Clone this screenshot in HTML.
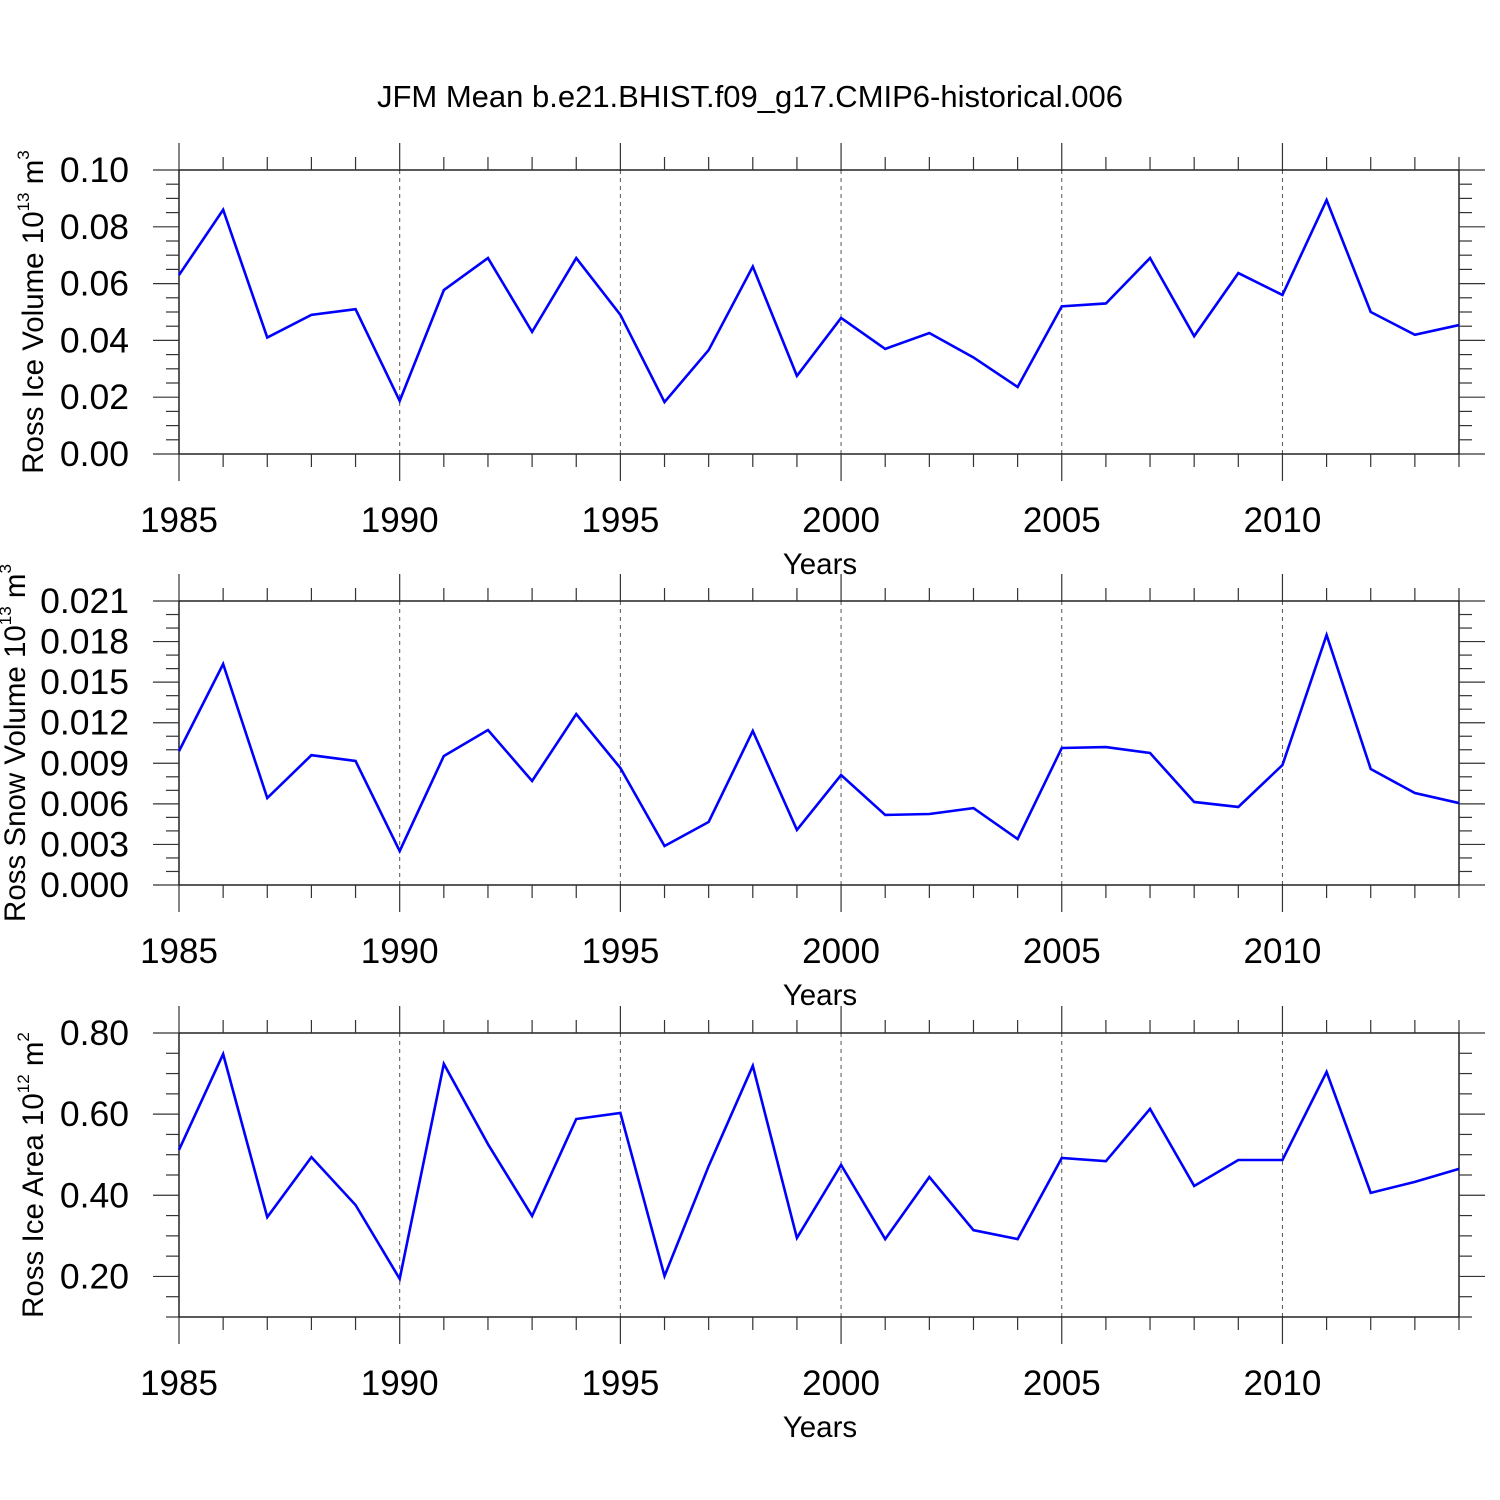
<!DOCTYPE html>
<html><head><meta charset="utf-8">
<style>
html,body{margin:0;padding:0;background:#fff;}
svg{display:block;font-family:"Liberation Sans",Arial,sans-serif;}
</style></head>
<body>
<svg id="chart" width="1500" height="1500" viewBox="0 0 1500 1500" xmlns="http://www.w3.org/2000/svg">
<rect width="1500" height="1500" fill="#fff"/>
<text x="750" y="107" font-size="31" text-anchor="middle" fill="#000">JFM Mean b.e21.BHIST.f09_g17.CMIP6-historical.006</text>
</svg>
<script>
const years = [1985,1986,1987,1988,1989,1990,1991,1992,1993,1994,1995,1996,1997,1998,1999,2000,2001,2002,2003,2004,2005,2006,2007,2008,2009,2010,2011,2012,2013,2014];
const iceVolume = [0.063,0.086,0.041,0.049,0.051,0.0187,0.0577,0.069,0.043,0.069,0.049,0.0183,0.0366,0.066,0.0275,0.0479,0.037,0.0426,0.034,0.0236,0.052,0.053,0.069,0.0415,0.0637,0.056,0.0894,0.050,0.042,0.0454];
const snowVolume = [0.0099,0.01634,0.00643,0.0096,0.00917,0.00251,0.00954,0.01146,0.00769,0.01264,0.00865,0.00288,0.00466,0.01139,0.00407,0.00813,0.00518,0.00525,0.00569,0.0034,0.01013,0.0102,0.00976,0.00614,0.00577,0.00887,0.01849,0.00858,0.0068,0.00606];
const iceArea = [0.512,0.748,0.346,0.494,0.376,0.194,0.724,0.526,0.349,0.588,0.603,0.201,0.472,0.719,0.295,0.475,0.292,0.445,0.314,0.292,0.492,0.484,0.613,0.423,0.487,0.487,0.704,0.406,0.433,0.465];
const xTickLabels = ["1985","1990","1995","2000","2005","2010"];
const iceVolTicks = ["0.00","0.02","0.04","0.06","0.08","0.10"];
const snowVolTicks = ["0.000","0.003","0.006","0.009","0.012","0.015","0.018","0.021"];
const iceAreaTicks = ["0.20","0.40","0.60","0.80"];

const NS = "http://www.w3.org/2000/svg";
const svg = document.getElementById('chart');
const X0 = 179, X1 = 1459;
function xs(yr){ return X0 + (yr - 1985) / (2014 - 1985) * (X1 - X0); }
function mk(tag, attrs, parent){
  const e = document.createElementNS(NS, tag);
  for (const k in attrs) e.setAttribute(k, attrs[k]);
  (parent || svg).appendChild(e);
  return e;
}

const panels = [
  {name:'ice-volume', top:170, bot:454, ymin:0, ymax:0.10, minor:0.005, data:iceVolume, ticks:iceVolTicks, title:'Ross Ice Volume 10', sup:'13', unit:' m', usup:'3', tx:43},
  {name:'snow-volume', top:601, bot:885, ymin:0, ymax:0.021, minor:0.001, data:snowVolume, ticks:snowVolTicks, title:'Ross Snow Volume 10', sup:'13', unit:' m', usup:'3', tx:25},
  {name:'ice-area', top:1033, bot:1317, ymin:0.10, ymax:0.80, minor:0.05, data:iceArea, ticks:iceAreaTicks, title:'Ross Ice Area 10', sup:'12', unit:' m', usup:'2', tx:43}
];

panels.forEach(p => {
  const g = mk('g', {});
  
  
  const ys = v => p.bot - (v - p.ymin) / (p.ymax - p.ymin) * (p.bot - p.top);

  xTickLabels.forEach(t => {
    const x = xs(+t);
    if (x > X0 + 1 && x < X1 - 1) {
      const l = mk('line', {x1:x, x2:x, y1:p.top, y2:p.bot, stroke:'#555', 'stroke-width':1, 'stroke-dasharray':'4,4'}, g);
      
      
    }
  });

  const fr = mk('rect', {x:X0, y:p.top, width:X1-X0, height:p.bot-p.top, fill:'none', stroke:'#000', 'stroke-width':1.3}, g);
  
  

  years.forEach(yr => {
    const x = xs(yr);
    const major = xTickLabels.includes(String(yr));
    const L = major ? 27 : 13;
    mk('line', {x1:x, x2:x, y1:p.top - L, y2:p.top, stroke:'#333', 'stroke-width':1.2}, g);
    mk('line', {x1:x, x2:x, y1:p.bot, y2:p.bot + L, stroke:'#333', 'stroke-width':1.2}, g);
  });
  xTickLabels.forEach(t => {
    const tx = mk('text', {x:xs(+t), y:p.bot + 78, 'font-size':35, 'text-anchor':'middle', fill:'#000'}, g);
    
    
    tx.textContent = t;
  });

  const nMinor = Math.round((p.ymax - p.ymin) / p.minor);
  for (let i = 0; i <= nMinor; i++) {
    const v = p.ymin + i * p.minor;
    const y = ys(v);
    const isMajor = p.ticks.some(t => Math.abs(+t - v) < p.minor / 10);
    const L = isMajor ? 26 : 13;
    mk('line', {x1:X0 - L, x2:X0, y1:y, y2:y, stroke:'#333', 'stroke-width':1.2}, g);
    mk('line', {x1:X1, x2:X1 + L, y1:y, y2:y, stroke:'#333', 'stroke-width':1.2}, g);
  }
  p.ticks.forEach(t => {
    const tx = mk('text', {x:129, y:ys(+t) + 12, 'font-size':35.5, 'text-anchor':'end', fill:'#000'}, g);
    
    
    tx.textContent = t;
  });

  const cy = (p.top + p.bot) / 2;
  const yt = mk('text', {x:0, y:0, 'font-size':29.5, 'text-anchor':'middle', fill:'#000', transform:'translate(' + p.tx + ',' + cy + ') rotate(-90)'}, g);
  
  
  const s1 = mk('tspan', {}, yt); s1.textContent = p.title;
  const s2 = mk('tspan', {'font-size':17, dy:-14}, yt); s2.textContent = p.sup;
  const s3 = mk('tspan', {dy:14}, yt); s3.textContent = p.unit;
  const s4 = mk('tspan', {'font-size':17, dy:-14}, yt); s4.textContent = p.usup;

  const xt = mk('text', {x:820, y:p.bot + 120, 'font-size':29.5, 'text-anchor':'middle', fill:'#000'}, g);
  
  
  xt.textContent = 'Years';

  const pts = p.data.map((v, i) => xs(years[i]).toFixed(2) + ',' + ys(v).toFixed(2)).join(' ');
  const pl = mk('polyline', {points:pts, fill:'none', stroke:'#0000ff', 'stroke-width':2.6, 'stroke-linejoin':'miter'}, g);
  
  
});
</script>
</body></html>
